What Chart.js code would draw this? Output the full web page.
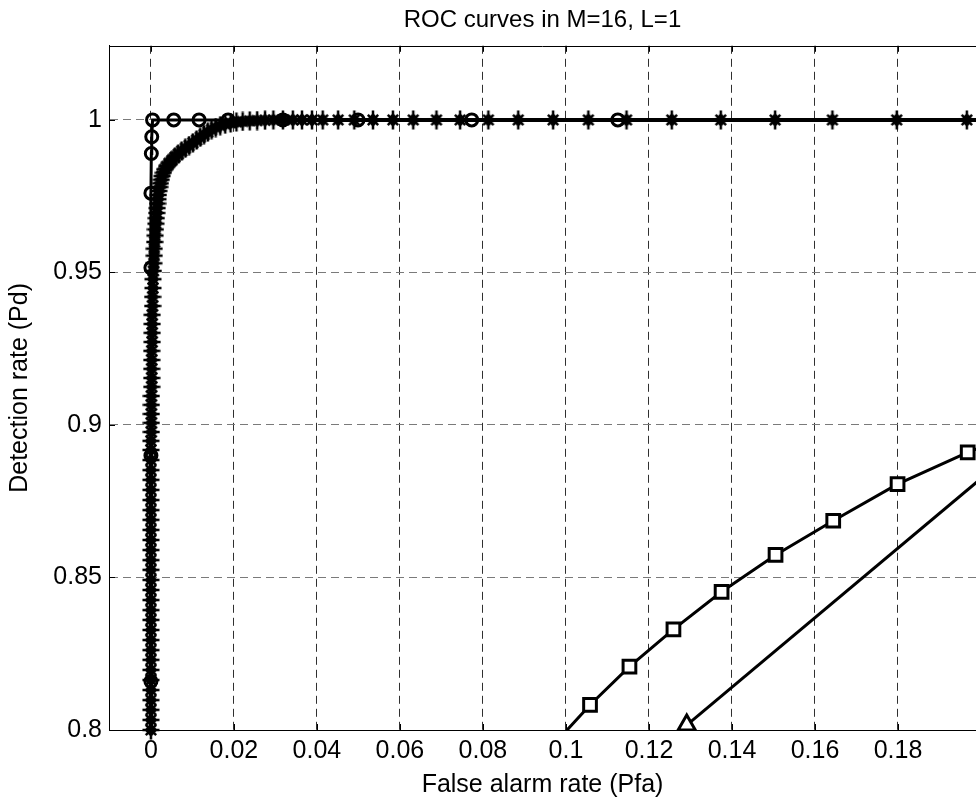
<!DOCTYPE html>
<html>
<head>
<meta charset="utf-8">
<script src="https://cdn.jsdelivr.net/npm/chart.js@4"></script>
<style>
html,body{margin:0;padding:0;background:#fff;}
canvas{display:block;}
</style>
</head>
<body>
<canvas id="c" width="976" height="805"></canvas>
<script>
// ---- tick labels ----
const xTickValues = [0, 0.02, 0.04, 0.06, 0.08, 0.1, 0.12, 0.14, 0.16, 0.18];
const yTickValues = [0.8, 0.85, 0.9, 0.95, 1];

// ---- series: '*' markers (dense ROC curve) ----
const pfaStar = [
  0,0,0,0,0,0,0,0,0,0,
  0,0,0,0,0,0,0,0,0,0,
  0,0,0,0,0,0,0,0,0,0,
  0.0001,0.0001,0.0001,0.0001,0.0001,0.0002,0.0002,0.0002,0.0002,0.0002,
  0.0003,0.0003,0.0003,0.0003,0.0004,0.0004,0.0005,0.0005,
  0.0006,0.0007,0.0008,0.0008,0.0009,0.0010,0.0011,0.0012,0.0013,0.0014,
  0.0015,0.0016,0.0017,0.0018,0.0019,0.0021,0.0023,0.0025,0.0027,0.0030,
  0.0033,
  0.0038,0.0044,0.0051,0.0058,0.0066,0.0074,0.0083,0.0092,0.0101,0.0110,0.0119,0.0128,
  0.0137,0.0146,0.0156,0.0167,0.0179,0.0192,0.0206,0.0221,0.0238,0.0256,0.0275,
  0.0295,0.0318,0.0342,0.0364,0.0388,0.0414,0.0451,0.0490,0.0535,0.0583,0.0632,0.0688,
  0.0745,0.0813,0.0885,0.0969,0.1054,0.1146,0.1255,0.1373,0.1504,0.1642,0.1797,0.1966,0.2150
];
const pdStar = [
  0.8000,0.8033,0.8066,0.8098,0.8131,0.8164,0.8197,0.8230,0.8262,0.8295,
  0.8328,0.8361,0.8393,0.8426,0.8459,0.8492,0.8525,0.8557,0.8590,0.8623,
  0.8656,0.8689,0.8721,0.8754,0.8787,0.8820,0.8852,0.8885,0.8918,0.8948,
  0.8977,0.9007,0.9036,0.9066,0.9095,0.9125,0.9154,0.9184,0.9213,0.9243,
  0.9272,0.9302,0.9331,0.9361,0.9390,0.9420,0.9449,0.9478,
  0.9505,0.9530,0.9555,0.9578,0.9600,0.9621,0.9641,0.9660,0.9678,0.9695,
  0.9711,0.9726,0.9740,0.9754,0.9767,0.9780,0.9792,0.9804,0.9816,0.9827,
  0.9838,
  0.9848,0.9858,0.9868,0.9878,0.9888,0.9898,0.9907,0.9916,0.9925,0.9934,0.9943,0.9952,
  0.9960,0.9968,0.9975,0.9981,0.9986,0.9990,0.9993,0.9995,0.9997,0.9998,0.9999,
  1,1,1,1,1,1,1,1,1,1,1,1,
  1,1,1,1,1,1,1,1,1,1,1,1,1
];

// ---- series: 'o' markers ----
const pfaCircle = [0, 0, 0, 0, 0.0001, 0.0002, 0.0004, 0.0055, 0.0116, 0.0186, 0.0318, 0.0499, 0.0773, 0.1125];
const pdCircle  = [0.816, 0.890, 0.9515, 0.976, 0.989, 0.9945, 1, 1, 1, 1, 1, 1, 1, 1];

// ---- series: square markers ----
const pfaSquare = [0.0973, 0.1058, 0.1153, 0.1259, 0.1375, 0.1505, 0.1644, 0.1799, 0.1968, 0.2147];
const pdSquare  = [0.7956, 0.8082, 0.8208, 0.8330, 0.8453, 0.8574, 0.8686, 0.8806, 0.8910, 0.9008];

// ---- series: triangle markers ----
const pfaTriangle = [0.1291, 0.2100];
const pdTriangle  = [0.8016, 0.8938];

const FONT = "'Liberation Sans', Arial, Helvetica, sans-serif";
const pts = (xs, ys) => xs.map((x, i) => ({x: x, y: ys[i]}));

// MATLAB-like thick '*' marker, used as a Chart.js image point style
function makeStarMarker() {
  const c = document.createElement('canvas');
  c.width = 18; c.height = 20;
  const g = c.getContext('2d');
  const cx = 9, cy = 10;
  g.fillStyle = '#000'; g.strokeStyle = '#000';
  g.beginPath();
  g.moveTo(cx, cy - 7); g.lineTo(cx + 6.5, cy); g.lineTo(cx, cy + 7); g.lineTo(cx - 6.5, cy);
  g.closePath(); g.fill();
  g.lineWidth = 2.5;
  g.beginPath();
  g.moveTo(cx, 0.5); g.lineTo(cx, 19.5);
  g.moveTo(0.5, cy); g.lineTo(17.5, cy);
  g.moveTo(cx - 5.2, cy - 5.2); g.lineTo(cx + 5.2, cy + 5.2);
  g.moveTo(cx + 5.2, cy - 5.2); g.lineTo(cx - 5.2, cy + 5.2);
  g.stroke();
  return c;
}
const starMarker = makeStarMarker();

const frame = {
  id: 'frame',
  afterDraw(chart) {
    const ctx = chart.ctx, a = chart.chartArea;
    const xs = chart.scales.x, ys = chart.scales.y;
    ctx.save();
    ctx.strokeStyle = '#000';
    ctx.lineWidth = 1;
    ctx.beginPath();
    ctx.moveTo(a.left, Math.round(a.top) + 0.5);
    ctx.lineTo(a.right, Math.round(a.top) + 0.5);
    const L = 6;
    xTickValues.forEach(v => {
      const px = Math.round(xs.getPixelForValue(v)) + 0.5;
      ctx.moveTo(px, a.top); ctx.lineTo(px, a.top + L);
      ctx.moveTo(px, a.bottom); ctx.lineTo(px, a.bottom - L);
    });
    yTickValues.forEach(v => {
      const py = Math.round(ys.getPixelForValue(v)) + 0.5;
      ctx.moveTo(a.left, py); ctx.lineTo(a.left + L, py);
    });
    ctx.stroke();
    ctx.restore();
  }
};

new Chart(document.getElementById('c'), {
  type: 'line',
  data: {
    datasets: [
      {
        data: pts(pfaTriangle, pdTriangle),
        borderColor: '#000', borderWidth: 3,
        pointStyle: 'triangle', pointRadius: 10, pointBorderWidth: 3,
        pointBackgroundColor: '#fff', pointBorderColor: '#000',
        tension: 0, order: 1, clip: {left: 12, top: 12, right: 12, bottom: 0}
      },
      {
        data: pts(pfaSquare, pdSquare),
        borderColor: '#000', borderWidth: 3,
        pointStyle: 'rect', pointRadius: 9, pointBorderWidth: 3,
        pointBackgroundColor: '#fff', pointBorderColor: '#000',
        tension: 0, order: 2, clip: {left: 12, top: 12, right: 12, bottom: 0}
      },
      {
        data: pts(pfaCircle, pdCircle),
        borderColor: '#000', borderWidth: 3,
        pointStyle: 'circle', pointRadius: 6, pointBorderWidth: 3,
        pointBackgroundColor: 'rgba(0,0,0,0)', pointBorderColor: '#000',
        tension: 0, order: 3, clip: 12
      },
      {
        data: pts(pfaStar, pdStar),
        borderColor: '#000', borderWidth: 4,
        pointStyle: starMarker, pointRadius: 8, pointBorderWidth: 0,
        pointBackgroundColor: '#000', pointBorderColor: '#000',
        tension: 0, order: 4, clip: 12
      }
    ]
  },
  options: {
    responsive: false,
    animation: false,
    devicePixelRatio: 1,
    events: [],
    layout: {padding: 0, autoPadding: false},
    plugins: {
      legend: {display: false},
      tooltip: {enabled: false},
      title: {
        display: true,
        fullSize: false,
        text: 'ROC curves in M=16, L=1',
        color: '#000',
        font: {family: FONT, size: 24, weight: 'normal', lineHeight: 1.2},
        padding: {top: 6, bottom: 11}
      }
    },
    scales: {
      x: {
        type: 'linear',
        min: -0.0101,
        max: 0.1988,
        afterBuildTicks: s => { s.ticks = xTickValues.map(v => ({value: v})); },
        afterFit: s => { s.height = 75; s.paddingLeft = 0; s.paddingRight = 0; },
        ticks: {
          autoSkip: false, maxRotation: 0, minRotation: 0,
          color: '#000', padding: 6,
          font: {family: FONT, size: 25, lineHeight: 1.2},
          callback: v => String(v)
        },
        grid: {color: '#303030', lineWidth: 1, drawTicks: false},
        border: {display: true, color: '#000', width: 1, dash: [8, 5]},
        title: {
          display: true, text: 'False alarm rate (Pfa)', color: '#000',
          font: {family: FONT, size: 25, lineHeight: 1.2},
          padding: {top: 0, bottom: 5}
        }
      },
      y: {
        type: 'linear',
        min: 0.8,
        max: 1.0243,
        afterBuildTicks: s => { s.ticks = yTickValues.map(v => ({value: v})); },
        afterFit: s => { s.width = 109; s.paddingTop = 0; s.paddingBottom = 0; },
        ticks: {
          color: '#000', padding: 7,
          font: {family: FONT, size: 25, lineHeight: 1.2},
          callback: v => String(v)
        },
        grid: {color: '#7a7a7a', lineWidth: 1, drawTicks: false},
        border: {display: true, color: '#000', width: 1, dash: [8, 5]},
        title: {
          display: true, text: 'Detection rate (Pd)', color: '#000',
          font: {family: FONT, size: 25, lineHeight: 1.2},
          padding: {top: 5, bottom: 0}
        }
      }
    }
  },
  plugins: [frame]
});
</script>
</body>
</html>
